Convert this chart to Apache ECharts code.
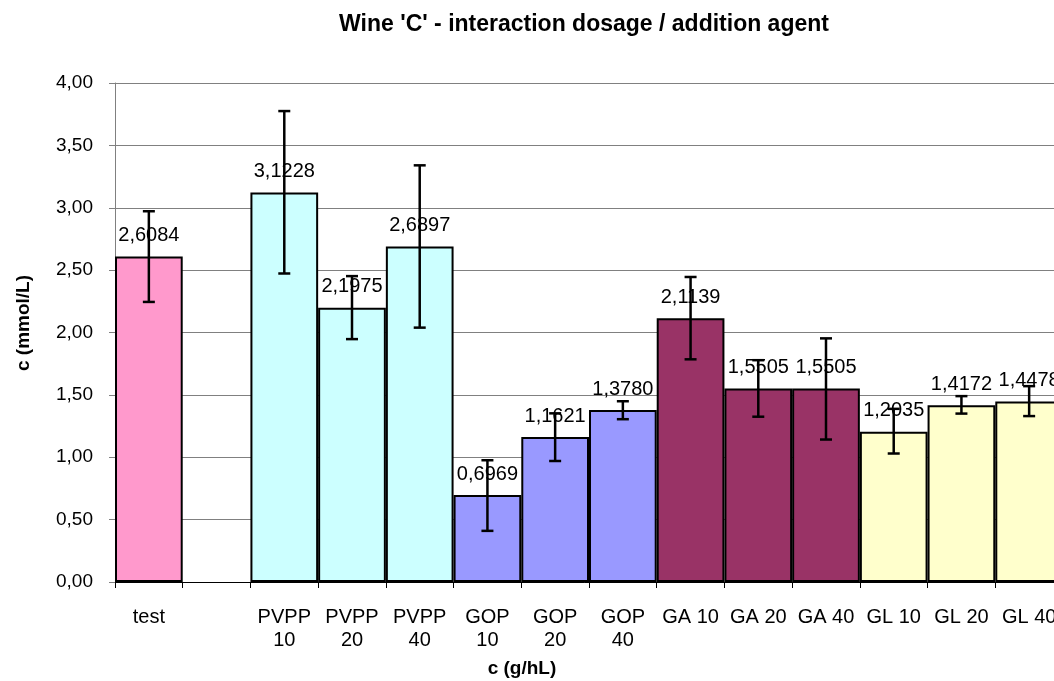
<!DOCTYPE html>
<html>
<head>
<meta charset="utf-8">
<script src="https://cdn.jsdelivr.net/npm/echarts@6/dist/echarts.min.js"></script>
<style>
html,body{margin:0;padding:0;background:#fff;}
#chart{width:1054px;height:681px;}
</style>
</head>
<body>
<div id="chart"></div>
<script>
var categories = ['test', '', 'PVPP\n10', 'PVPP\n20', 'PVPP\n40', 'GOP\n10', 'GOP\n20', 'GOP\n40', 'GA 10', 'GA 20', 'GA 40', 'GL 10', 'GL 20', 'GL 40'];
var values = [2.6084, null, 3.1228, 2.1975, 2.6897, 0.6969, 1.1621, 1.3780, 2.1139, 1.5505, 1.5505, 1.2035, 1.4172, 1.4478];
var errLow = [2.245, null, 2.473, 1.947, 2.039, 0.410, 0.970, 1.305, 1.785, 1.325, 1.142, 1.030, 1.350, 1.330];
var errHigh = [2.972, null, 3.775, 2.452, 3.340, 0.976, 1.352, 1.449, 2.445, 1.778, 1.953, 1.388, 1.490, 1.570];
var barColors = ['#FF99CC', null, '#CCFFFF', '#CCFFFF', '#CCFFFF', '#9999FF', '#9999FF', '#9999FF', '#993366', '#993366', '#993366', '#FFFFCC', '#FFFFCC', '#FFFFCC'];
var yTicks = {min: 0, max: 4, interval: 0.5};
var titleText = "Wine 'C' - interaction dosage / addition agent";
var xName = 'c (g/hL)';
var yName = 'c (mmol/L)';

var FONT = '"Liberation Sans", Arial, sans-serif';

var barData = values.map(function (v, i) {
  if (v === null) return '-';
  return {value: v, itemStyle: {color: barColors[i]}};
});
var errData = [];
values.forEach(function (v, i) {
  if (v !== null) errData.push([i, errLow[i], errHigh[i]]);
});

var chart = echarts.init(document.getElementById('chart'), null, {renderer: 'canvas'});
chart.setOption({
  animation: false,
  backgroundColor: '#ffffff',
  grid: {left: 115, top: 83, width: 948, height: 499, containLabel: false, outerBoundsMode: 'none'},
  graphic: [
    {type: 'text', x: 584, y: 25, style: {text: titleText, font: 'bold 23px ' + FONT, fill: '#000', align: 'center', verticalAlign: 'middle'}},
    {type: 'text', x: 522, y: 669, style: {text: xName, font: 'bold 19px ' + FONT, fill: '#000', align: 'center', verticalAlign: 'middle'}},
    {type: 'text', x: 24, y: 323, rotation: Math.PI / 2, style: {text: yName, font: 'bold 19px ' + FONT, fill: '#000', align: 'center', verticalAlign: 'middle'}}
  ],
  xAxis: {
    type: 'category',
    data: categories,
    axisLine: {show: true, lineStyle: {color: '#000', width: 1}},
    axisTick: {show: true, length: 6, lineStyle: {color: '#000', width: 1}},
    axisLabel: {interval: 0, margin: 24, color: '#000', fontFamily: FONT, fontSize: 20, lineHeight: 23},
    splitLine: {show: false}
  },
  yAxis: {
    type: 'value',
    min: yTicks.min, max: yTicks.max, interval: yTicks.interval,
    axisLine: {show: true, lineStyle: {color: '#808080', width: 1}},
    axisTick: {show: true, length: 6, lineStyle: {color: '#808080'}},
    axisLabel: {margin: 22, color: '#000', fontFamily: FONT, fontSize: 19,
      formatter: function (v) { return v.toFixed(2).replace('.', ','); }},
    splitLine: {show: true, lineStyle: {color: '#808080', width: 1}}
  },
  series: [
    {
      type: 'bar',
      data: barData,
      barWidth: '100%',
      barCategoryGap: 0,
      itemStyle: {borderColor: '#000', borderWidth: 2},
      label: {
        show: true, position: 'top', distance: 11,
        color: '#000', fontFamily: FONT, fontSize: 20,
        formatter: function (p) { return p.value.toFixed(4).replace('.', ','); }
      },
      z: 2
    },
    {
      type: 'custom',
      z: 10,
      data: errData,
      renderItem: function (params, api) {
        var x = api.value(0);
        var lo = api.coord([x, api.value(1)]);
        var hi = api.coord([x, api.value(2)]);
        var hw = 6;
        var st = {stroke: '#000', lineWidth: 2.5};
        return {
          type: 'group',
          children: [
            {type: 'line', shape: {x1: lo[0], y1: lo[1], x2: hi[0], y2: hi[1]}, style: st},
            {type: 'line', shape: {x1: lo[0] - hw, y1: lo[1], x2: lo[0] + hw, y2: lo[1]}, style: st},
            {type: 'line', shape: {x1: hi[0] - hw, y1: hi[1], x2: hi[0] + hw, y2: hi[1]}, style: st}
          ]
        };
      }
    }
  ]
});
</script>
</body>
</html>
